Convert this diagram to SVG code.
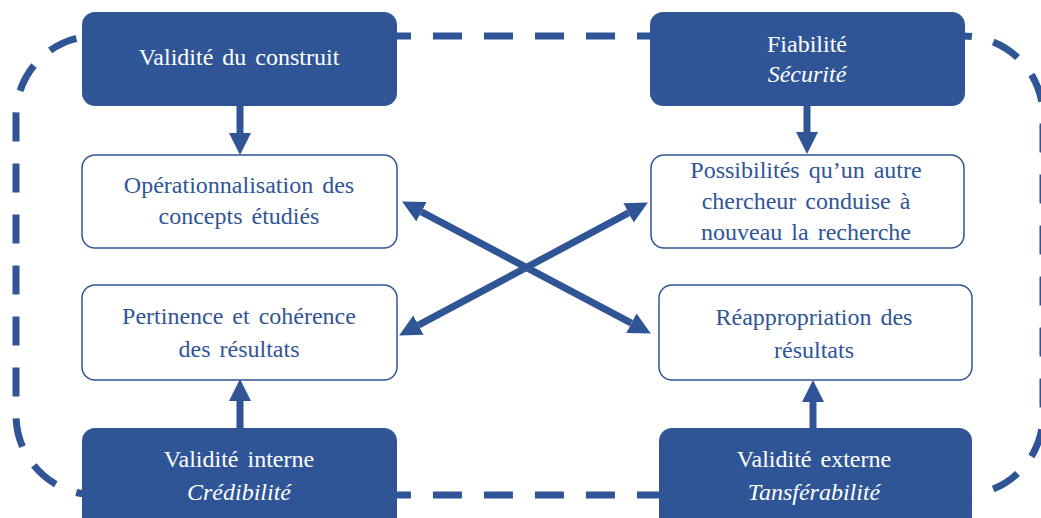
<svg xmlns="http://www.w3.org/2000/svg" width="1041" height="518" viewBox="0 0 1041 518">
<style>
.dark{fill:#2F5597;stroke:none}
.light{fill:#ffffff;stroke:#2F5597;stroke-width:1.5}
.tw{fill:#ffffff}
.tb{fill:#2F5597}
.it{font-style:italic}
.frame{fill:none;stroke:#2F5597;stroke-width:7;stroke-dasharray:29 22;stroke-dashoffset:20}
.conn line{stroke:#2F5597;stroke-width:7}
</style>
<defs>
<marker id="ah" markerUnits="userSpaceOnUse" markerWidth="22" markerHeight="22" refX="0" refY="11" orient="auto-start-reverse" viewBox="0 0 22 22">
<path d="M0,0 L22,11 L0,22 z" fill="#2F5597"/>
</marker>
</defs>
<rect class="frame" x="16" y="36" width="1027" height="459" rx="80" ry="80"/>
<g font-family="Liberation Serif, Tinos, DejaVu Serif, Noto Serif, Times, serif" font-size="24" text-anchor="middle" word-spacing="3">
<g id="n-construit">
<rect class="dark" x="82" y="12" width="315" height="94" rx="13"/>
<text class="tw" x="239" y="65">Validité du construit</text>
</g>
<g id="n-fiabilite">
<rect class="dark" x="650" y="12" width="315" height="94" rx="13"/>
<text class="tw" x="807" y="52">Fiabilité</text>
<text class="tw it" x="807" y="82">Sécurité</text>
</g>
<g id="n-operationnalisation">
<rect class="light" x="82" y="155" width="315" height="93" rx="13"/>
<text class="tb" x="239" y="193">Opérationnalisation des</text>
<text class="tb" x="239" y="224">concepts étudiés</text>
</g>
<g id="n-possibilites">
<rect class="light" x="651" y="155" width="313" height="93" rx="13"/>
<text class="tb" x="806" y="178">Possibilités qu’un autre</text>
<text class="tb" x="806" y="209">chercheur conduise à</text>
<text class="tb" x="806" y="240">nouveau la recherche</text>
</g>
<g id="n-pertinence">
<rect class="light" x="82" y="285" width="315" height="95" rx="13"/>
<text class="tb" x="239" y="324">Pertinence et cohérence</text>
<text class="tb" x="239" y="357">des résultats</text>
</g>
<g id="n-reappropriation">
<rect class="light" x="659" y="285" width="313" height="95" rx="13"/>
<text class="tb" x="814" y="325">Réappropriation des</text>
<text class="tb" x="814" y="358">résultats</text>
</g>
<g id="n-interne">
<rect class="dark" x="82" y="428" width="315" height="105" rx="13"/>
<text class="tw" x="239" y="467">Validité interne</text>
<text class="tw it" x="239" y="500">Crédibilité</text>
</g>
<g id="n-externe">
<rect class="dark" x="659" y="428" width="313" height="105" rx="13"/>
<text class="tw" x="814" y="467">Validité externe</text>
<text class="tw it" x="814" y="500">Tansférabilité</text>
</g>
</g>
<g id="connectors" class="conn">
<line x1="240" y1="106" x2="240" y2="133" marker-end="url(#ah)"/>
<line x1="807" y1="106" x2="807" y2="132" marker-end="url(#ah)"/>
<line x1="240" y1="428" x2="240" y2="401" marker-end="url(#ah)"/>
<line x1="813" y1="428" x2="813" y2="402" marker-end="url(#ah)"/>
<line x1="421.5" y1="211.8" x2="631.4" y2="323.2" marker-start="url(#ah)" marker-end="url(#ah)"/>
<line x1="418.5" y1="325.1" x2="628.5" y2="212.9" marker-start="url(#ah)" marker-end="url(#ah)"/>
</g>
</svg>
